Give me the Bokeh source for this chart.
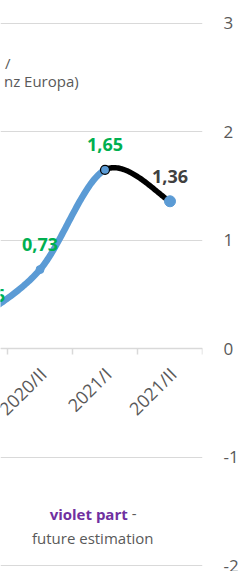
import numpy as np
from math import pi
from bokeh.plotting import figure
from bokeh.models import LinearAxis, FixedTicker, Range1d, Label
from bokeh.core.properties import value
from bokeh.embed import file_html
from bokeh.resources import INLINE

# ---- data ----
categories = ["2020/I", "2020/II", "2021/I", "2021/II"]
values = [0.26, 0.73, 1.65, 1.36]
label_colors = ["#00b050", "#00b050", "#00b050", "#404040"]
y_ticks = [-2, -1, 0, 1, 2, 3]
y_tick_labels = ["-2", "-1", "0", "1", "2", "3"]
note_bold = "violet part"
note_tail = "-"
note_line2 = "future estimation"
title_frag1 = "/"
title_frag2 = "nz Europa)"

FONT = "Open Sans"
BLUE = "#5b9bd5"
GRAY = "#595959"
GRID = "#d9d9d9"

xs = np.arange(len(categories), dtype=float)
ys = np.array(values, dtype=float)


def smooth_segments(x, y, n=60):
    """Excel-like smoothed line: cubic Bezier per segment."""
    segs = []
    m = len(x)
    t = np.linspace(0, 1, n)
    for i in range(m - 1):
        i0 = max(i - 1, 0)
        i3 = min(i + 2, m - 1)
        c1x = x[i] + (x[i + 1] - x[i0]) / 6
        c1y = y[i] + (y[i + 1] - y[i0]) / 6
        c2x = x[i + 1] - (x[i3] - x[i]) / 6
        c2y = y[i + 1] - (y[i3] - y[i]) / 6
        bx = (1 - t) ** 3 * x[i] + 3 * (1 - t) ** 2 * t * c1x + 3 * (1 - t) * t ** 2 * c2x + t ** 3 * x[i + 1]
        by = (1 - t) ** 3 * y[i] + 3 * (1 - t) ** 2 * t * c1y + 3 * (1 - t) * t ** 2 * c2y + t ** 3 * y[i + 1]
        segs.append((bx, by))
    return segs


segs = smooth_segments(xs, ys)

p = figure(width=243, height=571, output_backend="svg", toolbar_location=None,
           x_range=Range1d(0.392, 3.5), y_range=Range1d(-2.055, 3.212),
           x_axis_location=None, y_axis_location="right",
           min_border_left=0, min_border_right=41, min_border_top=0, min_border_bottom=0,
           margin=(0, 0, 0, 0))
p.outline_line_color = None
p.background_fill_color = "white"
p.border_fill_color = "white"

for g in p.xgrid:
    g.visible = False
p.ygrid.ticker = FixedTicker(ticks=y_ticks)
p.ygrid.grid_line_color = GRID
p.ygrid.grid_line_width = 1

ya = p.yaxis[0]
ya.ticker = FixedTicker(ticks=y_ticks)
ya.major_label_overrides = {float(t): s for t, s in zip(y_ticks, y_tick_labels)}
ya.axis_line_color = None
ya.major_tick_line_color = None
ya.minor_tick_line_color = None
ya.major_tick_out = 0
ya.major_label_standoff = 21
ya.major_label_text_font = FONT
ya.major_label_text_font_size = "17px"
ya.major_label_text_color = GRAY

# category axis crossing at y = 0 (line + tick marks between categories)
xa = LinearAxis(fixed_location=0,
                ticker=FixedTicker(ticks=list(xs), minor_ticks=list(xs + 0.5)),
                major_label_overrides={float(i): "" for i in xs})
xa.axis_line_color = GRID
xa.axis_line_width = 1.5
xa.major_tick_line_color = None
xa.major_tick_out = 0
xa.major_tick_in = 0
xa.minor_tick_line_color = GRID
xa.minor_tick_line_width = 1.5
xa.minor_tick_out = 6
xa.minor_tick_in = 0
xa.major_label_text_font_size = "0px"
p.add_layout(xa, "below")

# rotated category labels, hanging below the y = 0 axis
p.text(xs, np.zeros_like(xs), text=categories, angle=pi / 4, text_align="right",
       text_baseline="middle", x_offset=3, y_offset=22, text_font=value(FONT),
       text_font_size="18px", text_color=GRAY)

# blue historical curve
bx = np.concatenate([s[0] for s in segs[:-1]])
by = np.concatenate([s[1] for s in segs[:-1]])
p.line(bx, by, line_color=BLUE, line_width=6.5, line_cap="round", line_join="round")
# black last segment
p.line(segs[-1][0], segs[-1][1], line_color="black", line_width=5.5, line_cap="round", line_join="round")

# markers
p.scatter(xs[:2], ys[:2], size=8, fill_color=BLUE, line_color=BLUE)
p.scatter(xs[2:3], ys[2:3], size=9, fill_color=BLUE, line_color="black", line_width=1.2)
p.scatter(xs[3:], ys[3:], size=11, fill_color=BLUE, line_color=BLUE)

# data labels
labels = [f"{v:.2f}".replace(".", ",") for v in values]
p.text(xs[:1], ys[:1], text=labels[:1], text_color=label_colors[:1], text_align="center",
       text_baseline="middle", y_offset=-25, x_offset=12, text_font=value(FONT),
       text_font_size="18px", text_font_style="bold")
p.text(xs[1:], ys[1:], text=labels[1:], text_color=label_colors[1:], text_align="center",
       text_baseline="middle", y_offset=-25, text_font=value(FONT),
       text_font_size="18px", text_font_style="bold")

# annotations
p.add_layout(Label(x=0.546, y=2.638, text=title_frag1, text_align="right", text_baseline="middle",
                   text_font=FONT, text_font_size="15px", text_color=GRAY))
p.add_layout(Label(x=1.595, y=2.472, text=title_frag2, text_align="right", text_baseline="middle",
                   text_font=FONT, text_font_size="15px", text_color=GRAY))
p.add_layout(Label(x=2.35, y=-1.522, text=note_bold, text_align="right", text_baseline="middle",
                   text_font=FONT, text_font_size="15px", text_font_style="bold", text_color="#7030a0"))
p.add_layout(Label(x=2.35, y=-1.522, text=note_tail, text_align="left", text_baseline="middle",
                   x_offset=4, text_font=FONT, text_font_size="15px", text_color=GRAY))
p.add_layout(Label(x=1.811, y=-1.744, text=note_line2, text_align="center", text_baseline="middle",
                   text_font=FONT, text_font_size="15px", text_color=GRAY))

open("out.html", "w").write(file_html(p, INLINE))
